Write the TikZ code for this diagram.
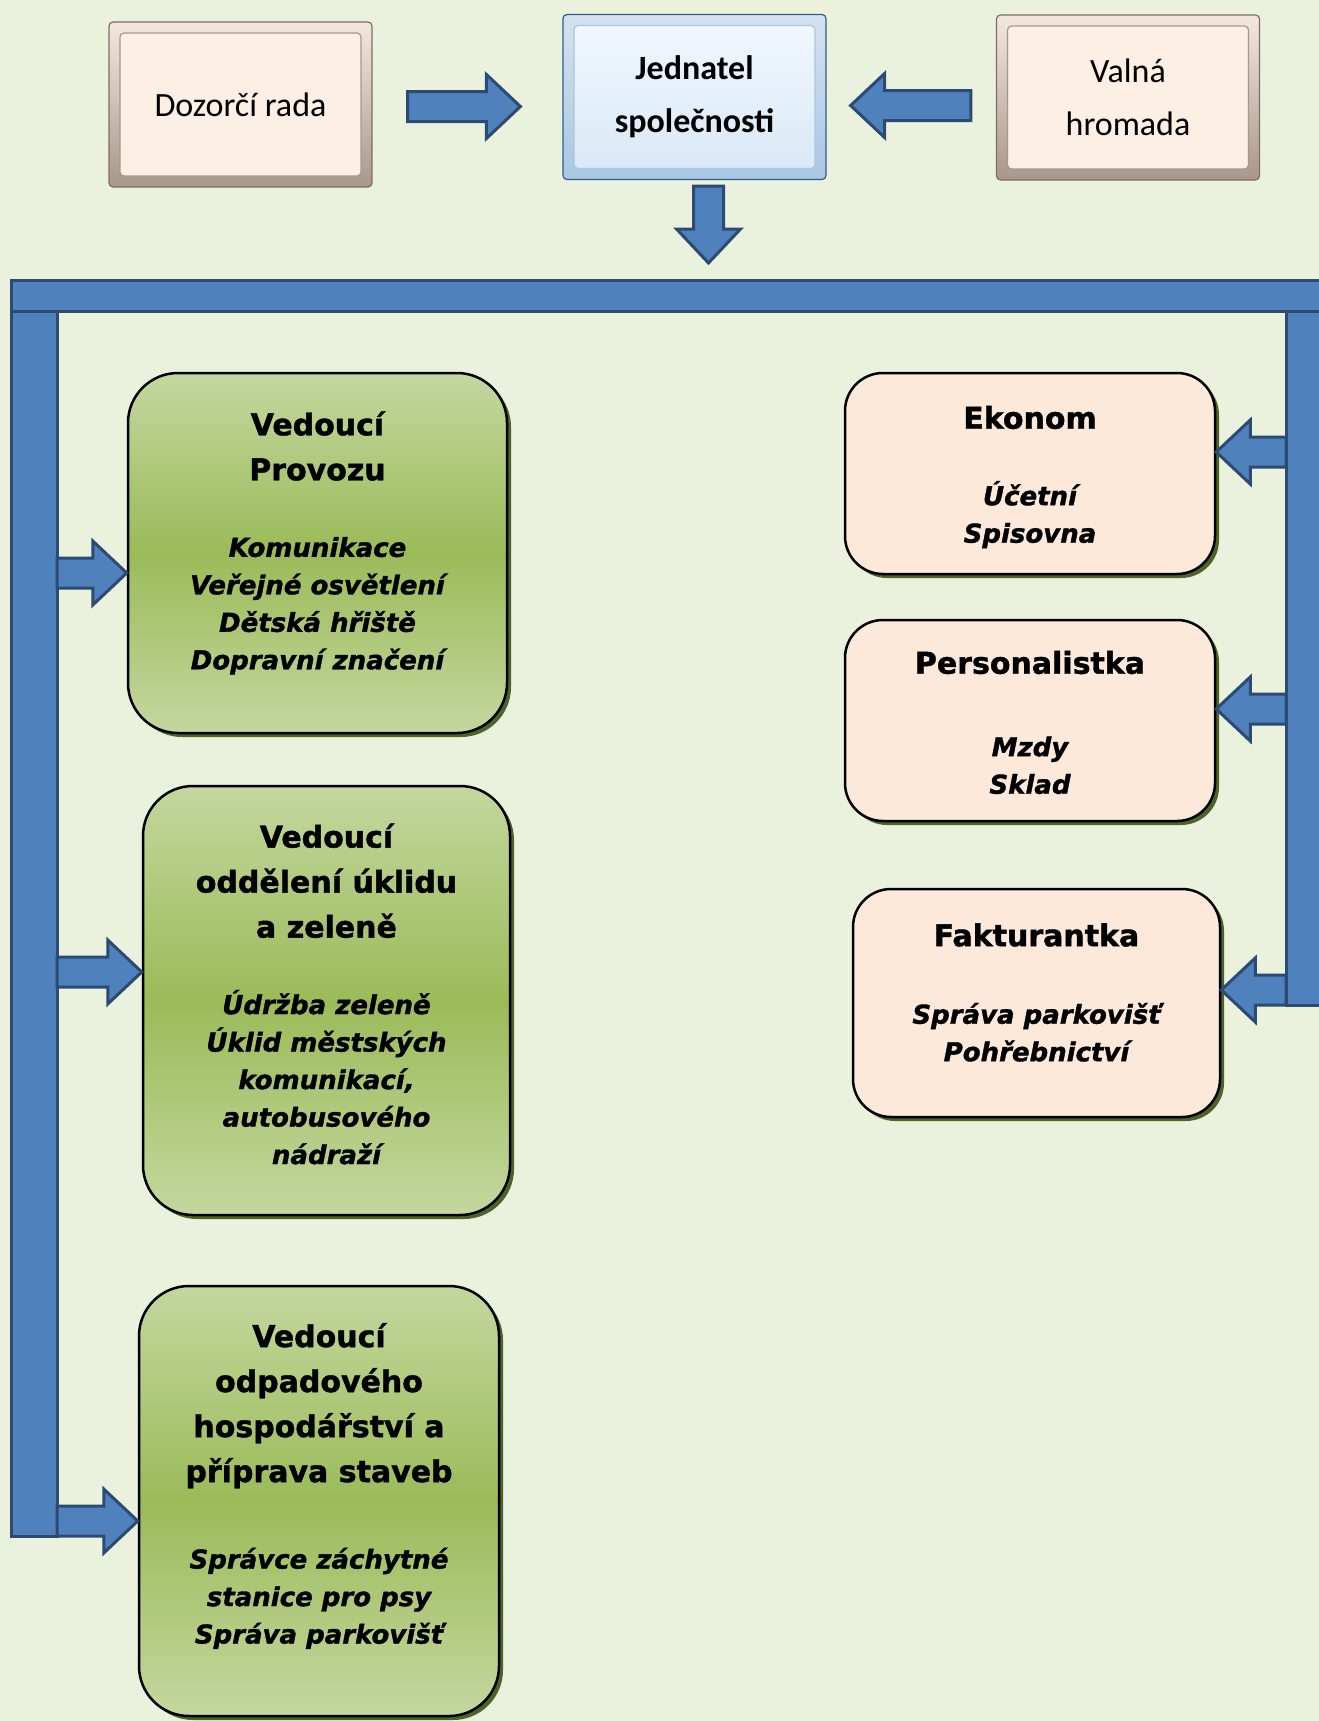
\documentclass[tikz,border=0pt]{standalone}
\usepackage{fontspec}
\setmainfont{DejaVu Sans}
\newfontfamily\cerny{DejaVu Sans}[BoldFeatures={FakeBold=1.3}, BoldItalicFeatures={FakeBold=1.3}]
\newfontfamily\calibri{Carlito}
\usetikzlibrary{calc}

\definecolor{pozadi}{HTML}{EAF1DD}
\definecolor{modra}{HTML}{4F81BD}
\definecolor{modratm}{HTML}{2B4B72}
\definecolor{zelsv}{HTML}{C4D79F}
\definecolor{zeltm}{HTML}{9BBB59}
\definecolor{broskev}{HTML}{FDE9D9}
\definecolor{stin}{HTML}{4F6228}
\definecolor{krem}{HTML}{FBF0E3}
\definecolor{ramsv}{HTML}{F3E8DE}
\definecolor{ramtm}{HTML}{A8978A}
\definecolor{ramcara}{HTML}{7D6E63}
\definecolor{modrasv}{HTML}{F2F8FE}
\definecolor{modrapan}{HTML}{D8E8F6}
\definecolor{modraram}{HTML}{A9C6E3}
\definecolor{modracara}{HTML}{2F5E89}

\newcommand{\nadpis}{\cerny\fontsize{30}{45}\selectfont\bfseries\spaceskip=\fontdimen2\font\xspaceskip=\fontdimen2\font\relax}
\newcommand{\polozky}{\cerny\fontsize{26}{37.5}\selectfont\bfseries\itshape\spaceskip=\fontdimen2\font\xspaceskip=\fontdimen2\font\relax}

% block arrow from #1 to #2
\newcommand{\blockarrow}[2]{%
  \coordinate (ah) at ($(#2)!34pt!(#1)$);
  \filldraw[sipka] ($(#1)!15pt!90:(#2)$) -- ($(ah)!15pt!90:(#2)$)
    -- ($(ah)!32pt!90:(#2)$) -- (#2) -- ($(ah)!32pt!-90:(#2)$)
    -- ($(ah)!15pt!-90:(#2)$) -- ($(#1)!15pt!-90:(#2)$) -- cycle;
}

\tikzset{
  sipka/.style={fill=modra, draw=modratm, line width=3pt, line join=miter},
  lista/.style={fill=modra, draw=modratm, line width=3pt},
  horni/.style={rectangle, rounded corners=4pt, line width=1.2pt,
    minimum width=263pt, minimum height=165pt, align=center,
    font=\calibri\fontsize{34}{53}\selectfont},
  panel/.style={path picture={\path[#1]
    ([shift={(11pt,-11pt)}]path picture bounding box.north west) rectangle
    ([shift={(-11pt,11pt)}]path picture bounding box.south east);}},
  vedouci/.style={rectangle, rounded corners=50pt, draw=black, line width=2.5pt,
    top color=zelsv, bottom color=zelsv, middle color=zeltm,
    text width=340pt, align=center,
    preaction={fill=stin, transform canvas={shift={(4pt,-4pt)}}}},
  referent/.style={rectangle, rounded corners=38pt, draw=black, line width=2.5pt,
    fill=broskev, text width=340pt, align=center,
    preaction={fill=stin, transform canvas={shift={(4pt,-4pt)}}}}
}

\begin{document}
\begin{tikzpicture}[x=1pt, y=-1pt]
\useasboundingbox (0,0) rectangle (1319,1721);
\fill[pozadi] (0,0) rectangle (1319,1721);

% top row
\node[horni, draw=ramcara, top color=ramsv, bottom color=ramtm, panel={fill=krem, draw=ramtm}] (dozor) at (240.5,104.5) {Dozorčí rada};
\node[horni, draw=modracara, top color=modraram!50!white, bottom color=modraram, panel={top color=modrasv, bottom color=modrapan, draw=modraram},
  font=\calibri\bfseries\fontsize{34}{53}\selectfont] (jednatel) at (694.5,97) {Jednatel\\společnosti};
\node[horni, draw=ramcara, top color=ramsv, bottom color=ramtm, panel={fill=krem, draw=ramtm}] (valna) at (1128,97.5) {Valná\\hromada};

% bars
\filldraw[lista] (11,311) rectangle (57,1536);
\filldraw[lista] (1286,311) rectangle (1330,1005);
\filldraw[lista] (11,280) rectangle (1330,311);
\coordinate (bar) at (11,280);

% left column
\node[vedouci, minimum width=379pt, minimum height=360pt] (provoz) at (317.5,553)
  {{\nadpis Vedoucí\\Provozu\par}\vskip39pt{\polozky Komunikace\\Veřejné osvětlení\\Dětská hřiště\\Dopravní značení\par}\kern20pt};
\node[vedouci, minimum width=367pt, minimum height=429pt] (zelen) at (326.5,1000.5)
  {{\nadpis Vedoucí\\oddělení úklidu\\a zeleně\par}\vskip39pt{\polozky Údržba zeleně\\Úklid městských\\komunikací,\\autobusového\\nádraží\par}\kern13pt};
\node[vedouci, minimum width=360pt, minimum height=430pt] (odpad) at (319,1501)
  {{\nadpis Vedoucí\\odpadového\\hospodářství a\\příprava staveb\par}\vskip49pt{\polozky Správce záchytné\\stanice pro psy\\Správa parkovišť\par}\kern30pt};

% right column
\node[referent, minimum width=370pt, minimum height=201pt] (ekonom) at (1030,473.5)
  {{\nadpis Ekonom\par}\vskip39pt{\polozky Účetní\\Spisovna\par}\kern-7pt};
\node[referent, minimum width=370pt, minimum height=201pt] (personal) at (1030,720.5)
  {{\nadpis Personalistka\par}\vskip45pt{\polozky Mzdy\\Sklad\par}\kern-4pt};
\node[referent, minimum width=367pt, minimum height=228pt] (faktur) at (1036.5,1003)
  {{\nadpis Fakturantka\par}\vskip40pt{\polozky Správa parkovišť\\Pohřebnictví\par}\kern21pt};

% arrows
\coordinate (d1) at ([xshift=35pt,yshift=-2pt]dozor.east);
\coordinate[xshift=-42pt] (d2) at (d1 -| jednatel.west);
\blockarrow{d1}{d2}
\coordinate (v1) at ([xshift=-25pt,yshift=-8pt]valna.west);
\coordinate[xshift=24pt] (v2) at (v1 -| jednatel.east);
\blockarrow{v1}{v2}
\coordinate (j1) at ([xshift=14pt,yshift=-6pt]jednatel.south);
\coordinate[yshift=17pt] (j2) at (j1 |- bar);
\blockarrow{j1}{j2}

\coordinate (g1) at (57,573);
\coordinate (g2) at (57,972);
\coordinate (g3) at (57,1521);
\blockarrow{g1}{g1 -| provoz.west}
\blockarrow{g2}{g2 -| zelen.west}
\blockarrow{g3}{g3 -| odpad.west}

\coordinate (r1) at (1286,452);
\coordinate (r2) at (1286,709);
\coordinate (r3) at (1286,990);
\blockarrow{r1}{r1 -| ekonom.east}
\blockarrow{r2}{r2 -| personal.east}
\blockarrow{r3}{r3 -| faktur.east}
\end{tikzpicture}
\end{document}
